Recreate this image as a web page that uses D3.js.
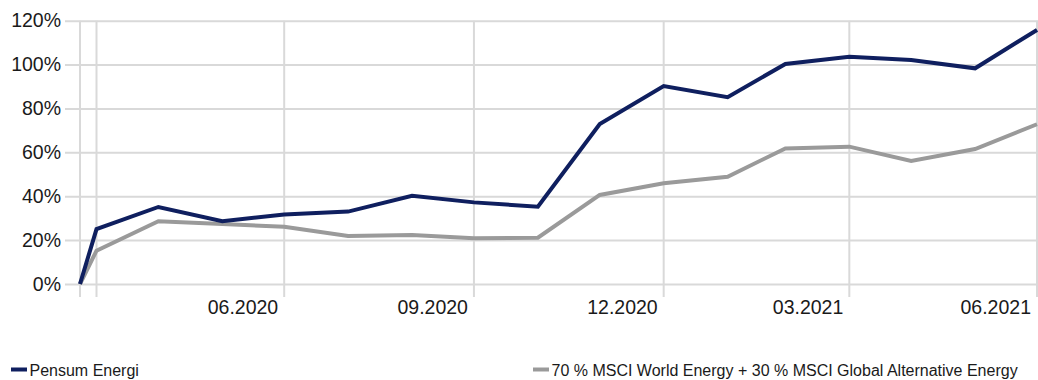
<!DOCTYPE html>
<html>
<head>
<meta charset="utf-8">
<script src="https://cdn.jsdelivr.net/npm/d3@7"></script>
<style>
	body { margin: 0; background: #fff; }
	svg text { font-family: 'Liberation Sans', Arial, sans-serif; fill: #1a1a1a; }
</style>
</head>
<body>
<div id="chart"></div>
<script>
// ********** LINE CHART: Pensum Energi vs benchmark **********

// Dates of each observation (month ends, first point is start date)
const dates = ['2020-03-23', '2020-03-31', '2020-04-30', '2020-05-31', '2020-06-30', '2020-07-31',
	'2020-08-31', '2020-09-30', '2020-10-31', '2020-11-30', '2020-12-31', '2021-01-31',
	'2021-02-28', '2021-03-31', '2021-04-30', '2021-05-31', '2021-06-30'];

// Cumulative return in percent
const fundValues = [0, 25, 35.1, 28.6, 31.7, 33.0, 40.2, 37.2, 35.2, 72.9, 90.2, 85.1, 100.3, 103.6, 102.1, 98.3, 115.8];
const benchValues = [0, 15.2, 28.6, 27.3, 26.1, 21.9, 22.3, 20.8, 21.1, 40.6, 45.9, 48.9, 61.8, 62.6, 56.1, 61.5, 72.8];

// Series names
const seriesNames = ['Pensum Energi', '70 % MSCI World Energy + 30 % MSCI Global Alternative Energy'];

// Axis ticks
const yTicks = [0, 20, 40, 60, 80, 100, 120];
const gridDates = ['2020-03-23', '2020-03-31', '2020-06-30', '2020-09-30', '2020-12-31', '2021-03-31', '2021-06-30'];
const labelDates = ['2020-06-30', '2020-09-30', '2020-12-31', '2021-03-31', '2021-06-30'];
const xLabels = ['06.2020', '09.2020', '12.2020', '03.2021', '06.2021'];

const width = 1038;
const height = 380;

const colors = { fund: '#0f1f5f', bench: '#9a9a9a', grid: '#d9d9d9' };

const parse = d3.utcParse('%Y-%m-%d');

const svg = d3.select('#chart')
	.append('svg')
	.attr('width', width)
	.attr('height', height);

// Scales
const xScale = d3.scaleUtc()
	.domain([parse(dates[0]), parse(dates[dates.length - 1])])
	.range([80, 1037]);

const yScale = d3.scaleLinear()
	.domain([0, 120])
	.range([284, 20.7]);

// Horizontal gridlines + y labels
const yAxis = d3.axisLeft(yScale)
	.tickValues(yTicks)
	.tickFormat(d => d + '%')
	.tickSize(-(width - 65))
	.tickPadding(4);

svg.append('g')
	.attr('class', 'y axis')
	.attr('transform', 'translate(65,0)')
	.call(yAxis)
	.call(g => g.select('.domain').remove())
	.call(g => g.selectAll('.tick line').attr('stroke', colors.grid).attr('stroke-width', 2))
	.call(g => g.selectAll('.tick text')
		.attr('font-size', '19.5px')
		.attr('fill', '#1a1a1a')
		.attr('font-family', "'Liberation Sans', Arial, sans-serif"));

// Vertical gridlines
svg.append('g')
	.attr('class', 'x grid')
	.selectAll('line')
	.data(gridDates)
	.enter()
	.append('line')
	.attr('x1', d => xScale(parse(d)))
	.attr('x2', d => xScale(parse(d)))
	.attr('y1', yScale(120))
	.attr('y2', 297)
	.attr('stroke', colors.grid)
	.attr('stroke-width', 2);

// X labels, right aligned before quarter gridline
svg.append('g')
	.attr('class', 'x labels')
	.selectAll('text')
	.data(labelDates)
	.enter()
	.append('text')
	.attr('x', d => xScale(parse(d)) - 6)
	.attr('y', 313.5)
	.attr('text-anchor', 'end')
	.attr('font-size', '19.5px')
	.text((d, i) => xLabels[i]);

// Lines
const line = d3.line()
	.x(d => xScale(d.date))
	.y(d => yScale(d.value));

const series = [
	{ values: benchValues, color: colors.bench },
	{ values: fundValues, color: colors.fund }
];

series.forEach(s => {
	const data = dates.map((d, i) => ({ date: parse(d), value: s.values[i] }));
	svg.append('path')
		.datum(data)
		.attr('fill', 'none')
		.attr('stroke', s.color)
		.attr('stroke-width', 4)
		.attr('stroke-linejoin', 'miter')
		.attr('d', line);
});

// Legend
const legendItems = [
	{ name: seriesNames[0], color: colors.fund, x: 11 },
	{ name: seriesNames[1], color: colors.bench, x: 533 }
];

const legend = svg.append('g').attr('class', 'legend');
legendItems.forEach(item => {
	legend.append('line')
		.attr('x1', item.x)
		.attr('x2', item.x + 16)
		.attr('y1', 369.5)
		.attr('y2', 369.5)
		.attr('stroke', item.color)
		.attr('stroke-width', 4);
	legend.append('text')
		.attr('x', item.x + 18.5)
		.attr('y', 376)
		.attr('font-size', '16px')
		.text(item.name);
});
</script>
</body>
</html>
